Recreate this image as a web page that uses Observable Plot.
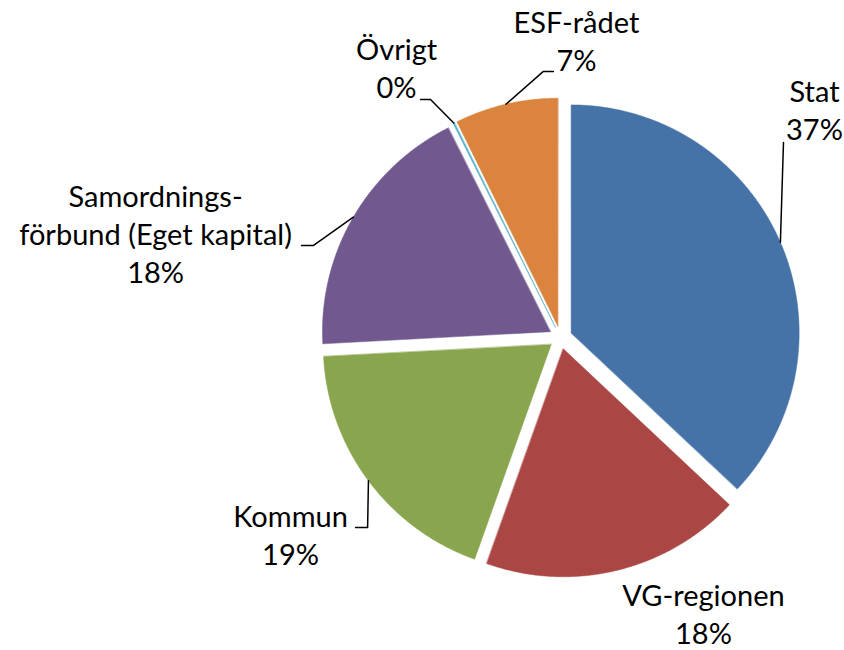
<!DOCTYPE html>
<html><head><meta charset="utf-8">
<script src="https://cdn.jsdelivr.net/npm/d3@7"></script>
<script src="https://cdn.jsdelivr.net/npm/@observablehq/plot@0.6"></script>
<style>html,body{margin:0;padding:0;background:#fff;} #chart svg{display:block;}</style>
</head><body><div id="chart"></div>
<script>
// ---- data ----
const categories = ["Stat", "VG-regionen", "Kommun", "Samordnings-\nförbund (Eget kapital)", "Övrigt", "ESF-rådet"];
const shares = [37.0, 18.45, 18.7, 18.45, 0.1, 7.3];
const colors = ["#4572A7", "#AA4643", "#89A54E", "#71588F", "#4BACC6", "#DB843D"];

// ---- layout (units of pie radius, origin at pie centre, y up) ----
const labelX = [1.114, 0.627, -1.184, -1.776, -0.719, 0.070];
const labelY = [1.031, -1.177, -0.833, 0.572, 1.215, 1.334];
const leaderElbow = [[0.978, 0.855], null, [-0.846, -0.833], [-1.083, 0.404], [-0.570, 1.044], [-0.075, 1.167]];
const leaderEnd = [null, null, [-0.899, -0.833], [-1.136, 0.404], [-0.614, 1.044], [-0.031, 1.167]];

const W = 844, H = 650, CX = 560, CY = 337, R = 228;
const EXPLODE = 11.6 / R, LINE = 38 / R, FONT = 29;

const data = categories.map((c, i) => ({category: c, value: shares[i]}));
const total = d3.sum(shares);
const arcs = d3.pie().sort(null).value(d => d.value)(data);

const slicePts = [];
const leaderPts = [];
const textRows = [];
arcs.forEach((a, i) => {
  const cat = a.data.category;
  const mid = (a.startAngle + a.endAngle) / 2;
  const ox = EXPLODE * Math.sin(mid), oy = EXPLODE * Math.cos(mid);
  slicePts.push({category: cat, x: ox, y: oy});
  const n = Math.max(2, Math.ceil((a.endAngle - a.startAngle) / (Math.PI / 720)));
  for (let k = 0; k <= n; k++) {
    const t = a.startAngle + (a.endAngle - a.startAngle) * k / n;
    slicePts.push({category: cat, x: ox + Math.sin(t), y: oy + Math.cos(t)});
  }
  if (leaderElbow[i]) {
    leaderPts.push({category: cat, x: ox + Math.sin(mid), y: oy + Math.cos(mid)});
    leaderPts.push({category: cat, x: leaderElbow[i][0], y: leaderElbow[i][1]});
    if (leaderEnd[i]) leaderPts.push({category: cat, x: leaderEnd[i][0], y: leaderEnd[i][1]});
  }
  const lines = cat.split("\n").concat([Math.round(a.data.value / total * 100) + "%"]);
  lines.forEach((t, j) => textRows.push({text: t, x: labelX[i], y: labelY[i] - j * LINE}));
});

const chart = Plot.plot({
  width: W, height: H,
  margin: 0,
  x: {domain: [-CX / R, (W - CX) / R], axis: null},
  y: {domain: [-(H - CY) / R, CY / R], axis: null},
  color: {domain: categories, range: colors},
  style: {background: "#fff", fontFamily: "Lato, sans-serif"},
  marks: [
    Plot.line(slicePts, {x: "x", y: "y", z: "category", fill: "category", stroke: "category", strokeWidth: 0.5, curve: "linear-closed"}),
    Plot.line(leaderPts, {x: "x", y: "y", z: "category", stroke: "black", strokeWidth: 1.5}),
    Plot.text(textRows, {x: "x", y: "y", text: "text", textAnchor: "middle", lineAnchor: "bottom", fontSize: FONT, fill: "black", fontFamily: "Lato, sans-serif"})
  ]
});
document.getElementById("chart").appendChild(chart);
</script>
</body></html>
